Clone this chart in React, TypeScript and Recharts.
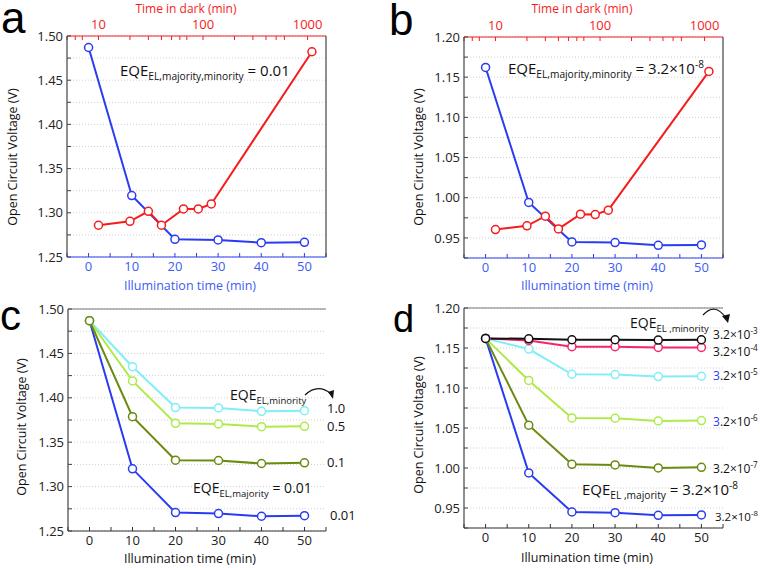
import React from "react";
import { LineChart, Line, XAxis, YAxis, CartesianGrid } from "recharts";

// ---- data ----
const illumTime = [0, 10, 20, 30, 40, 50];
const darkTime = [10, 20, 30, 40, 65, 90, 120, 1100];

// panel a (EQE = 0.01)
const vocIllumA = [1.487, 1.3195, 1.27, 1.2693, 1.2662, 1.2666];
const vocDarkA = [1.2859, 1.2904, 1.3017, 1.2859, 1.3044, 1.3044, 1.31, 1.4822];

// panel b (EQE = 3.2e-8)
const vocIllumB = [1.1621, 0.9941, 0.945, 0.9442, 0.9408, 0.9413];
const vocDarkB = [0.9604, 0.965, 0.977, 0.9612, 0.9795, 0.9791, 0.9845, 1.1572];

// panel c, EQE_EL,minority = 0.01 / 0.1 / 0.5 / 1.0
const vocC001 = [1.4868, 1.32, 1.2707, 1.2696, 1.2666, 1.2673];
const vocC01 = [1.4868, 1.3788, 1.3298, 1.3294, 1.326, 1.3268];
const vocC05 = [1.4868, 1.419, 1.3712, 1.3705, 1.3675, 1.3679];
const vocC10 = [1.4868, 1.435, 1.389, 1.3886, 1.3848, 1.3855];

// panel d, EQE_EL,minority = 3.2e-8 ... 3.2e-3
const vocD8 = [1.162, 0.9939, 0.945, 0.9442, 0.9409, 0.9413];
const vocD7 = [1.162, 1.0535, 1.0046, 1.0038, 1.0001, 1.0009];
const vocD6 = [1.162, 1.1094, 1.0626, 1.0622, 1.0589, 1.0593];
const vocD5 = [1.162, 1.1487, 1.1172, 1.1168, 1.1143, 1.1147];
const vocD4 = [1.162, 1.1594, 1.1516, 1.1516, 1.1507, 1.1507];
const vocD3 = [1.162, 1.1615, 1.1603, 1.1603, 1.1599, 1.1603];

// ticks
const illumMajor = [0, 10, 20, 30, 40, 50];
const illumMinor = [-5, 5, 15, 25, 35, 45, 55];
const darkMajor = [10, 100, 1000];
const darkMinor = [5, 6, 7, 8, 9, 20, 30, 40, 50, 60, 70, 80, 90, 200, 300, 400, 500, 600, 700, 800, 900];
const vocMajorHi = [1.25, 1.3, 1.35, 1.4, 1.45, 1.5];
const vocMinorHi = [1.275, 1.325, 1.375, 1.425, 1.475];
const vocMajorLo = [0.95, 1.0, 1.05, 1.1, 1.15, 1.2];
const vocMinorLo = [0.925, 0.975, 1.025, 1.075, 1.125, 1.175];

const FONT = '"Open Sans", sans-serif';
const BLUE = "#2a3cf2";
const RED = "#f51c1c";
const CYAN = "#80eef8";
const LGREEN = "#aeea4a";
const OLIVE = "#6a8a10";
const PINK = "#f5256a";
const BLACK = "#111111";

const merge = (a: number[], b: number[]) => [...a, ...b].sort((x, y) => x - y);
const pts = (xs: number[], ys: number[]) => xs.map((x, i) => ({ x, y: ys[i] }));

type Series = { xs: number[]; ys: number[]; color: string; axis?: string };

type PanelProps = {
  left: number;
  top: number;
  height: number;
  margin: { top: number; right: number; bottom: number; left: number };
  yMajor: number[];
  yMinor: number[];
  yDomain: [number, number];
  dark: boolean; // top log axis + right axis
  series: Series[];
};

function Panel({ left, top, height, margin, yMajor, yMinor, yDomain, dark, series }: PanelProps) {
  const bottomColor = dark ? "#3d5cf5" : "#222";
  return (
    <div style={{ position: "absolute", left, top }}>
      <LineChart width={380} height={height} margin={margin}>
        <CartesianGrid vertical={false} stroke="#cfcfcf" strokeDasharray="1 2" />
        <XAxis
          type="number"
          dataKey="x"
          domain={[-5, 55]}
          ticks={merge(illumMajor, illumMinor)}
          tickFormatter={(v: number) => (illumMajor.includes(v) ? String(v) : "")}
          allowDataOverflow
          height={20}
          tickSize={-4}
          tickMargin={9}
          axisLine={{ stroke: dark ? BLUE : "#333", strokeWidth: 1.2 }}
          tickLine={{ stroke: dark ? BLUE : "#333" }}
          tick={{ fill: bottomColor, fontSize: 13, fontFamily: FONT }}
        />
        {dark ? (
          <XAxis
            xAxisId="top"
            orientation="top"
            type="number"
            dataKey="x"
            scale="log"
            domain={[5, 1500]}
            ticks={merge(darkMajor, darkMinor)}
            tickFormatter={(v: number) => (darkMajor.includes(v) ? String(v) : "")}
            allowDataOverflow
            height={20}
            tickSize={-4}
            tickMargin={11}
            axisLine={{ stroke: RED, strokeWidth: 1.2 }}
            tickLine={{ stroke: RED }}
            tick={{ fill: RED, fontSize: 13, fontFamily: FONT }}
          />
        ) : (
          <XAxis
            xAxisId="top"
            orientation="top"
            type="number"
            dataKey="x"
            domain={[-5, 55]}
            ticks={merge(illumMajor, illumMinor)}
            tick={false}
            allowDataOverflow
            height={10}
            tickSize={-4}
            axisLine={{ stroke: "#777" }}
            tickLine={{ stroke: "#777" }}
          />
        )}
        <YAxis
          type="number"
          domain={yDomain}
          ticks={merge(yMajor, yMinor)}
          tickFormatter={(v: number) => (yMajor.includes(v) ? v.toFixed(2) : "")}
          allowDataOverflow
          width={40}
          tickSize={-4}
          tickMargin={8}
          axisLine={{ stroke: "#444", strokeWidth: 1.2 }}
          tickLine={{ stroke: "#444" }}
          tick={{ fill: "#222", fontSize: 13, fontFamily: FONT }}
        />
        {dark && (
          <YAxis
            yAxisId="r"
            orientation="right"
            type="number"
            domain={yDomain}
            ticks={merge(yMajor, yMinor)}
            allowDataOverflow
            width={4}
            tick={false}
            tickSize={-4}
            axisLine={{ stroke: "#444", strokeWidth: 1.2 }}
            tickLine={{ stroke: "#444" }}
          />
        )}
        {series.map((s, i) => (
          <Line
            key={i}
            data={pts(s.xs, s.ys)}
            xAxisId={s.axis || 0}
            dataKey="y"
            type="linear"
            stroke={s.color}
            strokeWidth={2}
            dot={{ r: 4, fill: "#fff", stroke: s.color, strokeWidth: 1.5 }}
            activeDot={false}
            isAnimationActive={false}
          />
        ))}
      </LineChart>
    </div>
  );
}

const Eqe = ({ x, y, sub, rest, size = 15 }: { x: number; y: number; sub: string; rest: React.ReactNode; size?: number }) => (
  <text x={x} y={y} fontSize={size} fontFamily={FONT} fill="#111">
    EQE
    <tspan dy={4} fontSize={size * 0.68}>
      {sub}
    </tspan>
    <tspan dy={-4}>{rest}</tspan>
  </text>
);

const Sci = ({ x, y, exp, size = 12, blue3 = false }: { x: number; y: number; exp: string; size?: number; blue3?: boolean }) => (
  <text x={x} y={y} fontSize={size} fontFamily={FONT} fill="#111">
    <tspan fill={blue3 ? "#2a3cf2" : "#111"}>3</tspan>
    .2×10
    <tspan dy={-5} fontSize={size * 0.68}>
      {exp}
    </tspan>
  </text>
);

export default function App() {
  const yTitle = "Open Circuit Voltage (V)";
  const xTitle = "Illumination time (min)";
  return (
    <div style={{ position: "absolute", left: 0, top: 0, width: 760, height: 568, background: "#fff", overflow: "hidden" }}>
      <Panel
        left={0}
        top={0}
        height={290}
        margin={{ top: 16, right: 50, bottom: 13, left: 27 }}
        yMajor={vocMajorHi}
        yMinor={vocMinorHi}
        yDomain={[1.25, 1.5]}
        dark
        series={[
          { xs: illumTime, ys: vocIllumA, color: BLUE },
          { xs: darkTime, ys: vocDarkA, color: RED, axis: "top" },
        ]}
      />
      <Panel
        left={380}
        top={0}
        height={290}
        margin={{ top: 17, right: 33, bottom: 12, left: 44 }}
        yMajor={vocMajorLo}
        yMinor={vocMinorLo}
        yDomain={[0.925, 1.2]}
        dark
        series={[
          { xs: illumTime, ys: vocIllumB, color: BLUE },
          { xs: darkTime, ys: vocDarkB, color: RED, axis: "top" },
        ]}
      />
      <Panel
        left={0}
        top={290}
        height={278}
        margin={{ top: 9, right: 54, bottom: 17, left: 28 }}
        yMajor={vocMajorHi}
        yMinor={vocMinorHi}
        yDomain={[1.25, 1.5]}
        dark={false}
        series={[
          { xs: illumTime, ys: vocC001, color: BLUE },
          { xs: illumTime, ys: vocC10, color: CYAN },
          { xs: illumTime, ys: vocC05, color: LGREEN },
          { xs: illumTime, ys: vocC01, color: OLIVE },
        ]}
      />
      <Panel
        left={380}
        top={290}
        height={278}
        margin={{ top: 8, right: 37, bottom: 20, left: 44 }}
        yMajor={vocMajorLo}
        yMinor={vocMinorLo}
        yDomain={[0.925, 1.2]}
        dark={false}
        series={[
          { xs: illumTime, ys: vocD8, color: BLUE },
          { xs: illumTime, ys: vocD7, color: OLIVE },
          { xs: illumTime, ys: vocD6, color: LGREEN },
          { xs: illumTime, ys: vocD5, color: CYAN },
          { xs: illumTime, ys: vocD4, color: PINK },
          { xs: illumTime, ys: vocD3, color: BLACK },
        ]}
      />

      <svg width={760} height={568} style={{ position: "absolute", left: 0, top: 0, pointerEvents: "none" }}>
        {/* panel letters */}
        <g fontFamily='"Liberation Sans", Arial, sans-serif' fill="#000">
          <text x={1} y={33} fontSize={44}>a</text>
          <text x={389} y={35} fontSize={44}>b</text>
          <text x={0} y={330} fontSize={42}>c</text>
          <text x={393} y={332} fontSize={38}>d</text>
        </g>

        {/* axis titles */}
        <g fontFamily={FONT} fontSize={12.5} textAnchor="middle" dominantBaseline="central">
          <text x={12} y={157} transform="rotate(-90 12 157)" fill="#111">{yTitle}</text>
          <text x={418} y={157} transform="rotate(-90 418 157)" fill="#111">{yTitle}</text>
          <text x={21} y={427} transform="rotate(-90 21 427)" fill="#111">{yTitle}</text>
          <text x={418} y={425} transform="rotate(-90 418 425)" fill="#111">{yTitle}</text>
          <text x={190} y={285} fill="#3d5cf5">{xTitle}</text>
          <text x={587} y={285} fill="#3d5cf5">{xTitle}</text>
          <text x={190} y={558} fill="#111">{xTitle}</text>
          <text x={587} y={557} fill="#111">{xTitle}</text>
        </g>
        <g fontFamily={FONT} fontSize={12} textAnchor="middle" fill={RED}>
          <text x={186} y={13}>Time in dark (min)</text>
          <text x={582} y={13}>Time in dark (min)</text>
        </g>

        {/* annotations */}
        <Eqe x={120} y={76} sub="EL,majority,minority" rest=" = 0.01" />
        <Eqe
          x={508}
          y={74}
          sub="EL,majority,minority"
          rest={
            <>
              {" = 3.2×10"}
              <tspan dy={-6} fontSize={10}>-8</tspan>
            </>
          }
        />
        <Eqe x={230} y={400} sub="EL,minority" rest="" size={14} />
        <Eqe x={193} y={493} sub="EL,majority" rest=" = 0.01" size={14} />
        <g fontFamily={FONT} fontSize={13} fill="#111">
          <text x={327} y={413}>1.0</text>
          <text x={327} y={431}>0.5</text>
          <text x={327} y={467}>0.1</text>
          <text x={330} y={520}>0.01</text>
        </g>
        <path d="M305,395 Q318,383 331,394" fill="none" stroke="#111" strokeWidth={1.2} />
        <path d="M328,392 L333,399 L334,390 Z" fill="#111" />

        <Eqe x={630} y={328} sub="EL ,minority" rest="" size={14} />
        <Eqe
          x={582}
          y={495}
          sub="EL ,majority"
          rest={
            <>
              {" = 3.2×10"}
              <tspan dy={-6} fontSize={10}>-8</tspan>
            </>
          }
          size={15}
        />
        <path d="M703,315 Q715,302 726,318" fill="none" stroke="#111" strokeWidth={1.2} />
        <path d="M722,316 L728,323 L730,314 Z" fill="#111" />
        <Sci x={713} y={339} exp="-3" />
        <Sci x={713} y={356} exp="-4" />
        <Sci x={713} y={380} exp="-5" blue3 />
        <Sci x={713} y={426} exp="-6" blue3 />
        <Sci x={713} y={473} exp="-7" />
        <Sci x={715} y={521} exp="-8" size={11.5} />
      </svg>
    </div>
  );
}
